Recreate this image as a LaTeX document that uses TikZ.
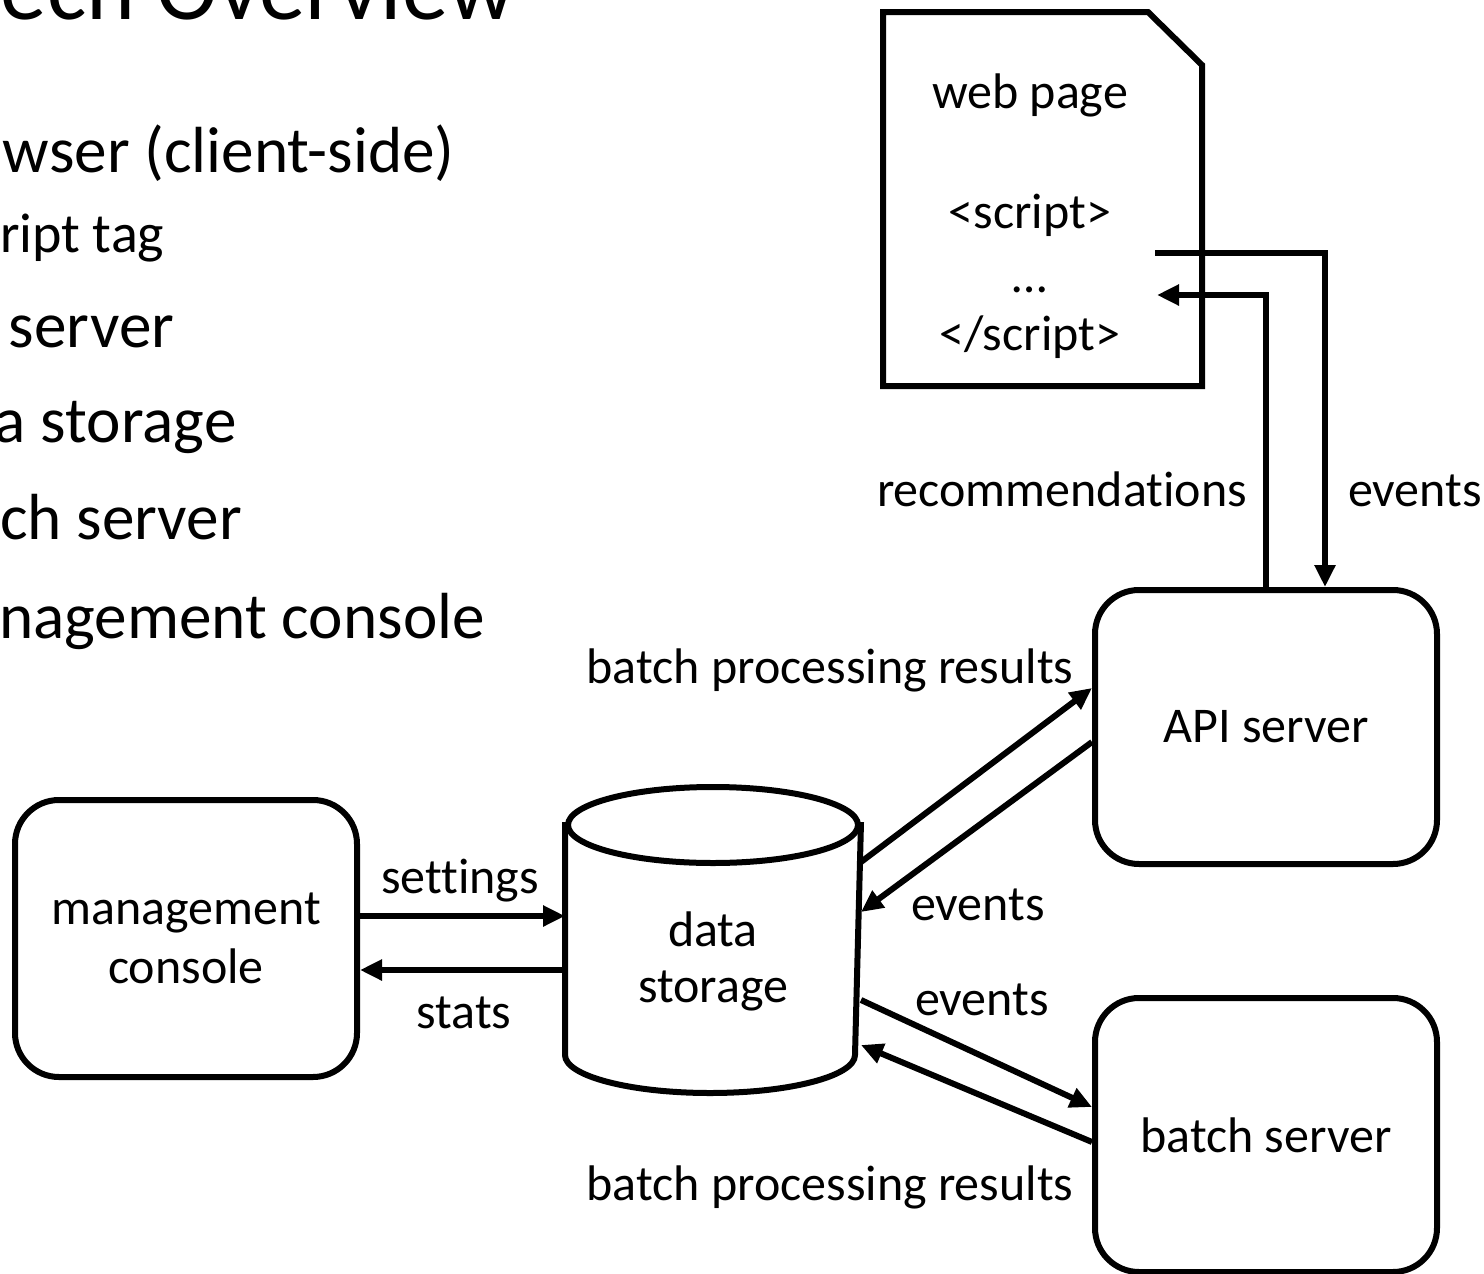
\documentclass[tikz,border=0pt]{standalone}
\usepackage{fontspec}
\setmainfont[Ligatures=NoCommon]{Carlito}
\usetikzlibrary{arrows.meta,calc}
\newcommand\dgfont{\fontsize{25}{29.5}\selectfont}
\newcommand\bulfont{\fontsize{32.6}{38}\selectfont}
\newcommand\subfont{\fontsize{28}{33}\selectfont}
\newcommand\ttlfont{\fontsize{46.5}{55}\selectfont}
\begin{document}
\begin{tikzpicture}[x=0.5pt,y=-0.5pt,
  line width=3pt,
  box/.style={draw, rounded corners=22pt, minimum width=171pt, minimum height=137pt,
              align=center, font=\dgfont, inner sep=0pt},
  arr/.style={-{Triangle[length=11pt,width=10pt]}, line width=3pt},
  lbl/.style={font=\dgfont, inner sep=0pt, anchor=base},
  bul/.style={inner sep=0pt, anchor=base west},
]
\path[use as bounding box] (0,0) rectangle (1484,1274);
\clip (0,0) rectangle (1484,1274);

% slide text on the left
\node[bul, font=\ttlfont] (title) at (-2,19) {ech Overview};
\node[bul, font=\bulfont] (b1) at (0,172) {wser (client-side)};
\node[bul, font=\subfont] (b2) at (-3,252) {ript tag};
\node[bul, font=\bulfont] (b3) at (6,347) {server};
\node[bul, font=\bulfont] (b4) at (-8,442) {a storage};
\node[bul, font=\bulfont] (b5) at (-3,539) {ch server};
\node[bul, font=\bulfont] (b6) at (-4,638) {nagement console};

% web page document with clipped corner
\draw[line join=miter] (883,12) -- (1148,12) -- (1202,65) -- (1202,386) -- (883,386) -- cycle;
\node[lbl] (wp) at (1030,108) {web page};
\node[lbl] (wp1) at (1030,228) {<script>};
\node[lbl] (wp2) at (1030,292) {…};
\node[lbl] (wp3) at (1030,350) {</script>};
\coordinate (evtout) at (1155,253);
\coordinate (recin) at (1157,295);

% servers and console
\node[box] (api) at (1266,727) {API server};
\node[box] (bs) at (1266,1135) {batch server};
\node[box, minimum height=138.5pt] (mc) at (186,938.5) {management\\console};

% data storage cylinder
\node[minimum width=145pt, minimum height=113.5pt, inner sep=0pt] (ds) at (713,938.5) {};
\draw[line join=round] (ds.north west) -- (ds.south west)
      arc[start angle=180, end angle=0, x radius=145, y radius=38] -- (ds.north east);
\draw (713,825) ellipse [x radius=145, y radius=38];
\node[lbl] (ds1) at (713,946) {data};
\node[lbl] (ds2) at (713,1002) {storage};

% connectors
\draw[arr] (evtout) -| ([xshift=29.5pt]api.north);
\draw[arr] (api.north) |- (recin);
\draw[arr] (mc.east |- 0,916) -- (ds.west |- 0,916);
\draw[arr] (ds.west |- 0,970) -- (mc.east |- 0,970);
\draw[arr] (ds.east |- 0,862) -- (api.west |- 0,688);
\draw[arr] (api.west |- 0,742) -- (ds.east |- 0,912);
\draw[arr] (ds.east |- 0,1000) -- (bs.west |- 0,1107);
\draw[arr] (bs.west |- 0,1142) -- (ds.east |- 0,1045);

% connector labels
\node[lbl, anchor=base east] (lrec) at (1250,506) {recommendations};
\node[lbl, anchor=base west] (levt) at (1345,506) {events};
\node[lbl] (lbpr1) at (830,683) {batch processing results};
\node[lbl] (lset) at (460,893) {settings};
\node[lbl] (lsta) at (464,1028) {stats};
\node[lbl] (levt1) at (978,920) {events};
\node[lbl] (levt2) at (982,1015) {events};
\node[lbl] (lbpr2) at (830,1200) {batch processing results};
\end{tikzpicture}
\end{document}
